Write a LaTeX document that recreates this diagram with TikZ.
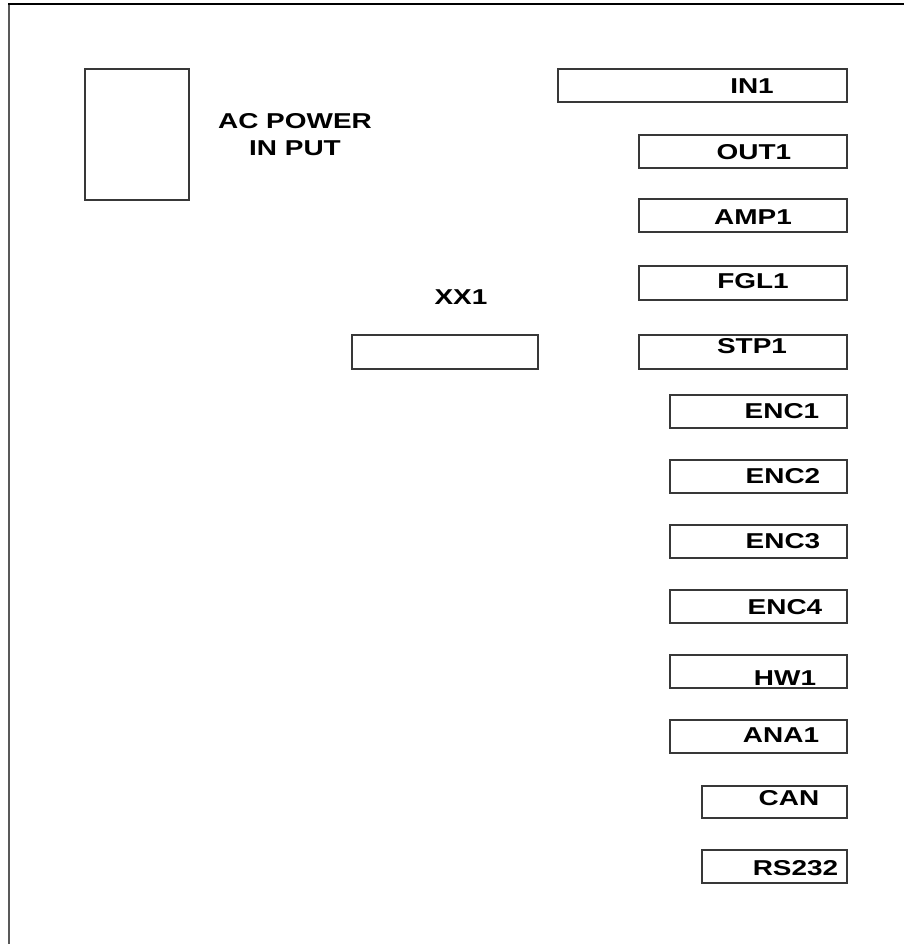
\documentclass[tikz,border=0pt]{standalone}
\usepackage{fontspec}
\setmainfont{Liberation Sans}[FakeStretch=1.3]
\begin{document}
\begin{tikzpicture}[x=1pt,y=-1pt,
  box/.style={draw=black!78, line width=1.3pt, inner sep=0pt, fill=white},
  wbox/.style={box, minimum width=208pt, minimum height=33pt},
  ebox/.style={box, minimum width=177pt, minimum height=33pt},
  sbox/.style={box, minimum width=145pt, minimum height=33pt},
  lbl/.style={inner sep=0pt, font=\fontsize{21.5}{27}\selectfont\bfseries, text=black}]
\useasboundingbox (0,0) rectangle (904,944);
\fill[white] (0,0) rectangle (904,944);
% frame
\coordinate (ftl) at (9,4);
\coordinate (fbl) at (9,944);
\coordinate (ftr) at (904,4);
\draw[black!65, line width=2pt] (ftl) -- (fbl);
\draw[black, line width=1.2pt] (8,4) -- (ftr);
% AC power
\node[box, minimum width=104pt, minimum height=131pt] (ac) at (137,134.5) {};
\node[lbl, align=center] (actext) at (295,134.5) {AC POWER\\IN PUT};
% right column
\node[box, minimum width=289pt, minimum height=33pt] (in1) at (702.5,85.5) {};
\node[lbl] (in1t) at (752,86.5) {IN1};
\node[wbox] (out1) at (743,151.5) {};
\node[lbl] (out1t) at (754,152.5) {OUT1};
\node[wbox] (amp1) at (743,215.5) {};
\node[lbl] (amp1t) at (753,217) {AMP1};
\node[wbox, minimum height=34pt] (fgl1) at (743,283) {};
\node[lbl] (fgl1t) at (753,281) {FGL1};
\node[wbox, minimum height=34pt] (stp1) at (743,352) {};
\node[lbl] (stp1t) at (752,346) {STP1};
% XX1
\node[box, minimum width=186pt, minimum height=34pt] (xx1) at (445,352) {};
\node[lbl] (xx1t) at (461,297) {XX1};
% encoders etc.
\node[ebox] (enc1) at (758.5,411.5) {};
\node[lbl] (enc1t) at (782,411.5) {ENC1};
\node[ebox] (enc2) at (758.5,476.5) {};
\node[lbl] (enc2t) at (783,476.5) {ENC2};
\node[ebox] (enc3) at (758.5,541.5) {};
\node[lbl] (enc3t) at (783,541) {ENC3};
\node[ebox] (enc4) at (758.5,606.5) {};
\node[lbl] (enc4t) at (785,607.5) {ENC4};
\node[ebox] (hw1) at (758.5,671.5) {};
\node[lbl] (hw1t) at (785,678.5) {HW1};
\node[ebox] (ana1) at (758.5,736.5) {};
\node[lbl] (ana1t) at (781,735) {ANA1};
\node[sbox, minimum height=32pt] (can) at (774.5,802) {};
\node[lbl] (cant) at (789,798.5) {CAN};
\node[sbox] (rs232) at (774.5,866.5) {};
\node[lbl] (rs232t) at (795.5,868) {RS232};
\end{tikzpicture}
\end{document}
